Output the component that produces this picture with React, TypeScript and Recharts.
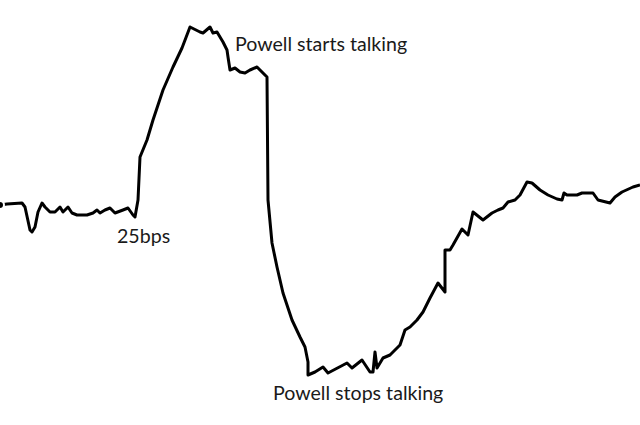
import { LineChart, Line, XAxis, YAxis, ReferenceDot } from "recharts";

// hand-drawn trace: time (x) and level (y, higher = up)
const times = [
  0, 7, 22, 25, 30, 32, 35, 38, 42, 45, 50, 55, 60, 63, 68, 72, 77, 87, 93, 97,
  100, 105, 110, 115, 123, 128, 133, 135, 138, 140, 147, 153, 163, 173, 182, 190,
  200, 203, 210, 213, 217, 220, 223, 227, 228, 230, 235, 240, 245, 250, 257, 262,
  265, 267, 268, 272, 277, 283, 292, 300, 305, 308, 308, 315, 323, 328, 347, 352,
  362, 370, 373, 375, 377, 383, 390, 400, 405, 410, 417, 423, 430, 438, 445, 445,
  450, 453, 462, 468, 473, 483, 492, 498, 503, 508, 515, 520, 527, 532, 540, 548,
  557, 562, 564, 567, 577, 582, 593, 598, 610, 615, 622, 633, 640,
];
const levels = [
  220, 221, 222, 218, 195, 193, 198, 213, 222, 218, 213, 213, 218, 213, 218, 212,
  210, 210, 212, 215, 212, 215, 217, 212, 215, 217, 210, 208, 225, 268, 285, 305,
  335, 358, 377, 398, 393, 392, 398, 392, 393, 388, 383, 375, 368, 355, 357, 353,
  352, 355, 358, 353, 350, 348, 225, 182, 158, 132, 105, 88, 78, 63, 50, 53, 58,
  52, 62, 57, 65, 53, 53, 73, 57, 67, 70, 80, 95, 98, 105, 113, 127, 142, 133,
  175, 175, 180, 196, 190, 213, 205, 212, 215, 217, 223, 225, 230, 243, 242, 235,
  230, 226, 225, 232, 230, 230, 232, 232, 225, 222, 228, 233, 238, 240,
];

const trace = times.map((t, i) => ({ t, level: levels[i] }));

const notes = [
  { text: "Powell starts talking", t: 235, level: 374 },
  { text: "25bps", t: 117, level: 182 },
  { text: "Powell stops talking", t: 273, level: 25 },
];

const NoteLabel = ({ viewBox, value }: any) => (
  <text
    x={viewBox.x}
    y={viewBox.y}
    fontFamily="Lato, sans-serif"
    fontSize={19.6}
    fill="#1a1a1a"
    textAnchor="start"
  >
    {value}
  </text>
);

export default function App() {
  return (
    <div style={{ position: "absolute", left: 0, top: 0, background: "#fff" }}>
      <LineChart width={640} height={425} data={trace} margin={{ top: 0, right: 0, bottom: 0, left: 0 }}>
        <XAxis dataKey="t" type="number" domain={[0, 640]} hide />
        <YAxis type="number" domain={[0, 425]} hide />
        <Line
          type="linear"
          dataKey="level"
          stroke="#000"
          strokeWidth={3}
          dot={false}
          strokeLinejoin="round"
          isAnimationActive={false}
        />
        {notes.map((n) => (
          <ReferenceDot
            key={n.text}
            x={n.t}
            y={n.level}
            r={0}
            stroke="none"
            fill="none"
            label={<NoteLabel value={n.text} />}
          />
        ))}
      </LineChart>
    </div>
  );
}
